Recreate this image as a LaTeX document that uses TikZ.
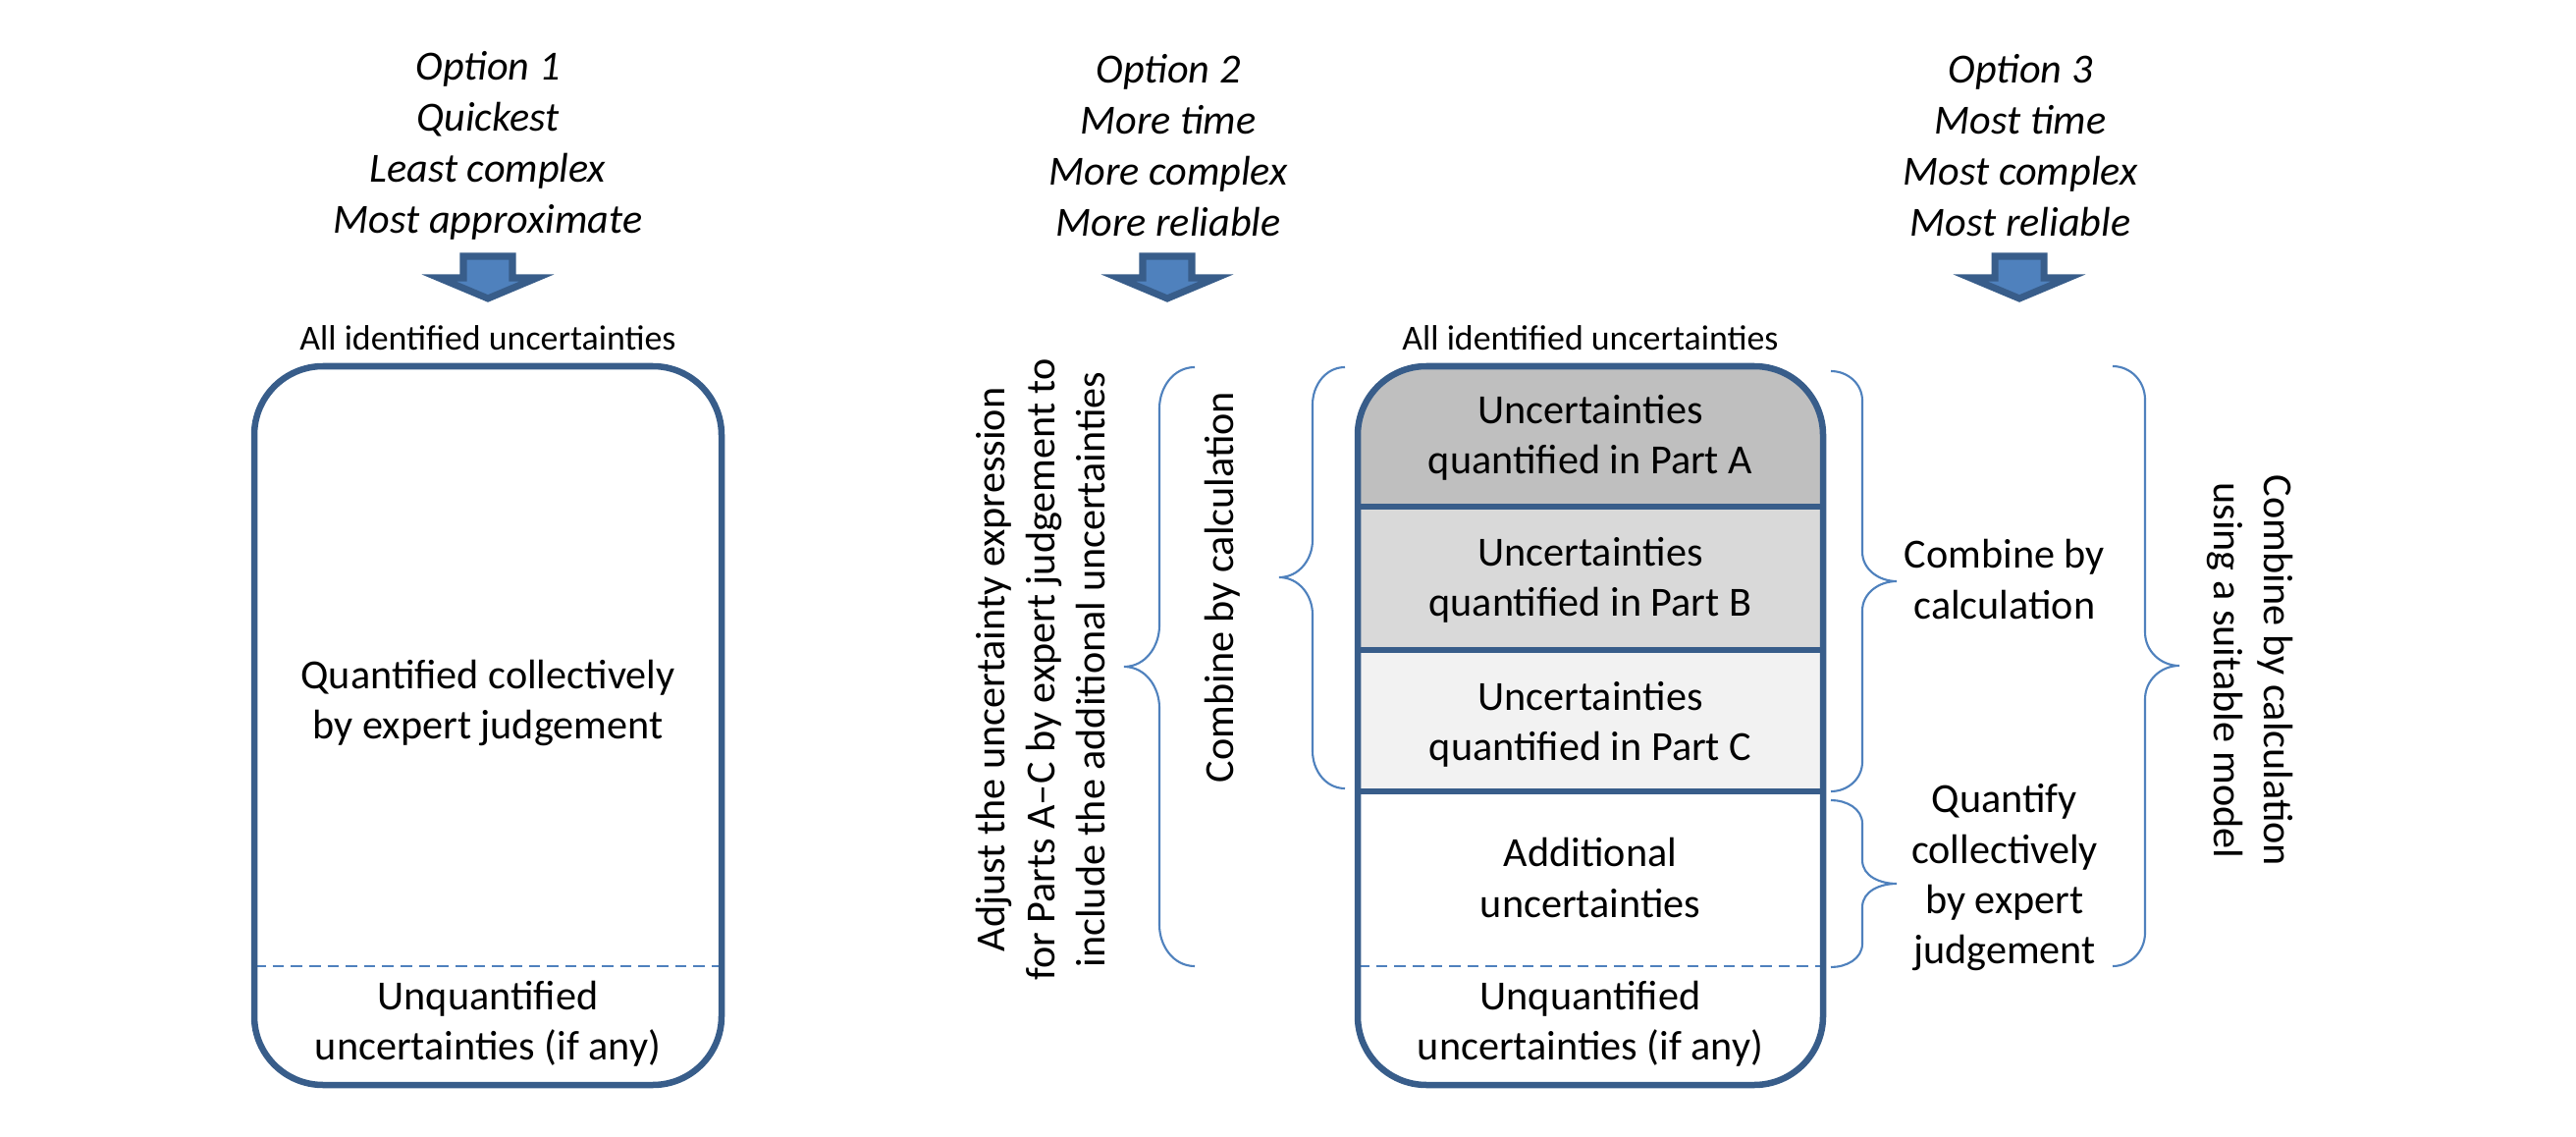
\documentclass[tikz,border=0pt]{standalone}
\usepackage{fontspec}
\setmainfont{Carlito}
\definecolor{boxblue}{HTML}{385D8A}
\definecolor{lightblue}{HTML}{4F81BD}
\definecolor{partA}{HTML}{BFBFBF}
\definecolor{partB}{HTML}{D9D9D9}
\definecolor{partC}{HTML}{F2F2F2}

% braces: ends x, middle x, tip x, top y, tip y, bottom y, curl
\newcommand{\bracewest}[7]{\draw[bracket] (#1,#4) to[out=180,in=90] (#2,#4+#7) -- (#2,#5-#7) to[out=-90,in=0] (#3,#5) to[out=0,in=90] (#2,#5+#7) -- (#2,#6-#7) to[out=-90,in=180] (#1,#6);}
\newcommand{\braceeast}[7]{\draw[bracket] (#1,#4) to[out=0,in=90] (#2,#4+#7) -- (#2,#5-#7) to[out=-90,in=180] (#3,#5) to[out=180,in=90] (#2,#5+#7) -- (#2,#6-#7) to[out=-90,in=0] (#1,#6);}

\begin{document}
\begin{tikzpicture}[x=0.01cm, y=-0.01cm,
    txt/.style={align=center, inner sep=0pt, font=\fontsize{12}{14.6}\selectfont},
    opt/.style={align=center, inner sep=0pt, font=\fontsize{12}{14.8}\selectfont\itshape},
    small/.style={inner sep=0pt, font=\fontsize{10.2}{12}\selectfont},
    frame/.style={draw=boxblue, line width=1.85pt},
    bracket/.style={draw=lightblue, line width=0.6pt},
    sep/.style={draw=lightblue, line width=0.6pt, dash pattern=on 3.3pt off 2pt},
    blockarrow/.style={fill=lightblue, draw=boxblue, line width=2pt}]
    \useasboundingbox (0,0) rectangle (2624,1158);

    % headings
    \node[opt] (opt1) at (497,148) {Option 1\\Quickest\\Least complex\\Most approximate};
    \node[opt] (opt2) at (1190,148) {Option 2\\More time\\More complex\\More reliable};
    \node[opt] (opt3) at (2058,148) {Option 3\\Most time\\Most complex\\Most reliable};

    \foreach \ax in {497,1189,2057}
        \draw[blockarrow] (\ax-25,261) -- (\ax+25,261) -- (\ax+25,283) -- (\ax+50,283)
            -- (\ax,304) -- (\ax-50,283) -- (\ax-25,283) -- cycle;

    % option 1
    \node[small] (all1) at (497,344) {All identified uncertainties};
    \draw[sep] (259,984) -- (735,984);
    \draw[frame, rounded corners=0.7cm] (259,373) rectangle (735,1105);
    \node[txt] (quant1) at (497,716) {Quantified collectively\\by expert judgement};
    \node[txt] (unq1) at (497,1043) {Unquantified\\uncertainties (if any)};

    % options 2 and 3
    \node[small] (all2) at (1620,344) {All identified uncertainties};
    \begin{scope}
        \clip[rounded corners=0.7cm] (1383,373) rectangle (1857,1105);
        \fill[partA] (1383,373) rectangle (1857,516);
        \fill[partB] (1383,516) rectangle (1857,662);
        \fill[partC] (1383,662) rectangle (1857,806);
    \end{scope}
    \draw[sep] (1383,984) -- (1857,984);
    \draw[frame] (1383,516) -- (1857,516);
    \draw[frame] (1383,662) -- (1857,662);
    \draw[frame] (1383,806) -- (1857,806);
    \draw[frame, rounded corners=0.7cm] (1383,373) rectangle (1857,1105);

    \node[txt] (partA) at (1620,446) {Uncertainties\\quantified in Part A};
    \node[txt] (partB) at (1620,591) {Uncertainties\\quantified in Part B};
    \node[txt] (partC) at (1620,738) {Uncertainties\\quantified in Part C};
    \node[txt] (addl) at (1620,894) {Additional\\uncertainties};
    \node[txt] (unq2) at (1620,1043) {Unquantified\\uncertainties (if any)};

    \bracewest{1217}{1181}{1145}{374}{679}{984}{42}
    \bracewest{1370}{1337}{1303}{374}{588}{803}{38}
    \braceeast{1865}{1897}{1932}{378}{592}{806}{30}
    \braceeast{1865}{1897}{1932}{815}{900}{985}{24}
    \braceeast{2152}{2185}{2220}{373}{678}{984}{34}

    \node[txt, rotate=90] (adjust) at (1060,682) {Adjust the uncertainty expression\\for Parts A--C by expert judgement to\\include the additional uncertainties};
    \node[txt, rotate=90] (calc2) at (1245,598) {Combine by calculation};
    \node[txt] (calc3) at (2042,590) {Combine by\\calculation};
    \node[txt] (expert3) at (2042,894) {Quantify\\collectively\\by expert\\judgement};
    \node[txt, rotate=-90] (model) at (2292,683) {Combine by calculation\\using a suitable model};
\end{tikzpicture}
\end{document}
